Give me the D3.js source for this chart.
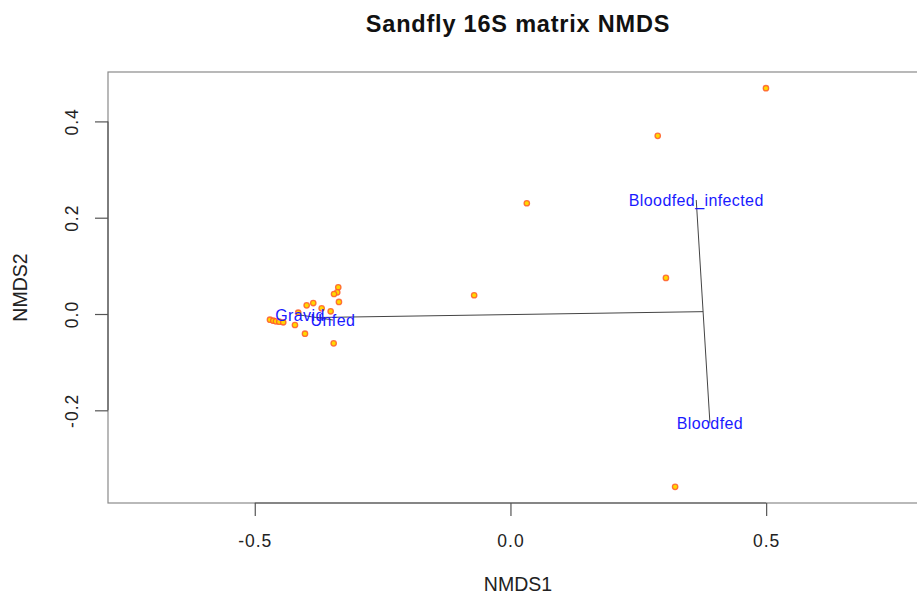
<!DOCTYPE html>
<html>
<head>
<meta charset="utf-8">
<script src="https://cdn.jsdelivr.net/npm/d3@7"></script>
<style>
  body { margin: 0; background: #fff; }
  text { font-family: "Liberation Sans", Arial, sans-serif; }
</style>
</head>
<body>
<svg id="chart" width="917" height="594"></svg>
<script>
// NMDS site scores
const nmds1 = [0.4996, 0.288, 0.032, 0.304, -0.071, 0.322,
  -0.3367, -0.3387, -0.345, -0.3354, -0.3856, -0.3985, -0.3692, -0.3516, -0.415,
  -0.4703, -0.4638, -0.4585, -0.4521, -0.4443, -0.4214, -0.4018, -0.3457];
const nmds2 = [0.469, 0.370, 0.230, 0.075, 0.039, -0.359,
  0.0555, 0.045, 0.0415, 0.025, 0.0228, 0.018, 0.0118, 0.0056, 0.0027,
  -0.0118, -0.0139, -0.0152, -0.016, -0.0172, -0.0228, -0.0409, -0.0609];

// Group centroids
const groups = ["Bloodfed_infected", "Bloodfed", "Gravid", "Unfed"];
const groupX = [0.3633, 0.3901, -0.4116, -0.3471];
const groupY = [0.2368, -0.227, -0.0021, -0.0125];

// Cluster joins: [from centroid/merge, to centroid/merge]
const joinX1 = [0.3633, -0.4116, -0.379];
const joinY1 = [0.2368, -0.0021, -0.0073];
const joinX2 = [0.3901, -0.3471, 0.3767];
const joinY2 = [-0.227, -0.0125, 0.0049];

const xTicks = [-0.5, 0.0, 0.5];
const yTicks = [-0.2, 0.0, 0.2, 0.4];

const svg = d3.select("#chart");
const mLeft = 108, mRight = 928, mTop = 72, mBottom = 503;

const x = d3.scaleLinear().domain([-0.787, 0.8165]).range([mLeft, mRight]);
const y = d3.scaleLinear().domain([-0.3925, 0.5026]).range([mBottom, mTop]);
const fmt = d => d3.format(".1f")(d).replace("\u2212", "-");

// plot box
svg.append("rect")
  .attr("x", mLeft).attr("y", mTop)
  .attr("width", mRight - mLeft).attr("height", mBottom - mTop)
  .attr("fill", "none").attr("stroke", "#8a8a8a").attr("stroke-width", 1.2);

// x axis
const xAxis = svg.append("g").attr("transform", `translate(0,${mBottom})`)
  .call(d3.axisBottom(x).tickValues(xTicks).tickFormat(fmt).tickSize(13));
xAxis.select(".domain").attr("d", `M${x(-0.5)},0H${x(0.5)}`).attr("stroke", "#555").attr("stroke-width", 1.2);
xAxis.selectAll(".tick line").attr("stroke", "#555").attr("stroke-width", 1.2);
xAxis.selectAll(".tick text").attr("y", 43.5).attr("dy", 0)
  .attr("font-size", 17.5).attr("letter-spacing", 1).attr("fill", "#222");

// y axis
const yAxis = svg.append("g").attr("transform", `translate(${mLeft},0)`)
  .call(d3.axisLeft(y).tickValues(yTicks).tickSize(13));
yAxis.select(".domain").attr("d", `M0,${y(-0.2)}V${y(0.4)}`).attr("stroke", "#555").attr("stroke-width", 1.2);
yAxis.selectAll(".tick line").attr("stroke", "#555").attr("stroke-width", 1.2);
yAxis.selectAll(".tick text").remove();
yAxis.selectAll(".tick").append("text")
  .attr("transform", "translate(-30,0) rotate(-90)")
  .attr("text-anchor", "middle")
  .attr("font-size", 17.5).attr("letter-spacing", 1).attr("fill", "#222")
  .text(fmt);

// title and axis labels
svg.append("text").attr("x", (mLeft + mRight) / 2).attr("y", 32)
  .attr("text-anchor", "middle").attr("font-size", 23.5).attr("font-weight", "bold")
  .attr("letter-spacing", 0.8).attr("fill", "#111").text("Sandfly 16S matrix NMDS");
svg.append("text").attr("x", (mLeft + mRight) / 2).attr("y", 591)
  .attr("text-anchor", "middle").attr("font-size", 19.5).attr("fill", "#222").text("NMDS1");
svg.append("text").attr("transform", `translate(27,${(mTop + mBottom) / 2}) rotate(-90)`)
  .attr("text-anchor", "middle").attr("font-size", 19.5).attr("fill", "#222").text("NMDS2");

// points
svg.append("g").selectAll("circle").data(d3.range(nmds1.length)).join("circle")
  .attr("cx", i => x(nmds1[i])).attr("cy", i => y(nmds2[i]))
  .attr("r", 2.7)
  .attr("fill", "#ffd800").attr("stroke", "#ff5a2a").attr("stroke-width", 1.3).attr("stroke-opacity", 0.85);

// cluster segments
svg.append("g").selectAll("line").data(d3.range(joinX1.length)).join("line")
  .attr("x1", i => x(joinX1[i])).attr("y1", i => y(joinY1[i]))
  .attr("x2", i => x(joinX2[i])).attr("y2", i => y(joinY2[i]))
  .attr("stroke", "#444").attr("stroke-width", 1);

// group labels
svg.append("g").selectAll("text").data(d3.range(groups.length)).join("text")
  .attr("x", i => x(groupX[i])).attr("y", i => y(groupY[i]))
  .attr("text-anchor", "middle").attr("dy", "0.36em")
  .attr("font-size", 16).attr("letter-spacing", 0.4).attr("fill", "#1a1aff")
  .text(i => groups[i]);
</script>
</body>
</html>
